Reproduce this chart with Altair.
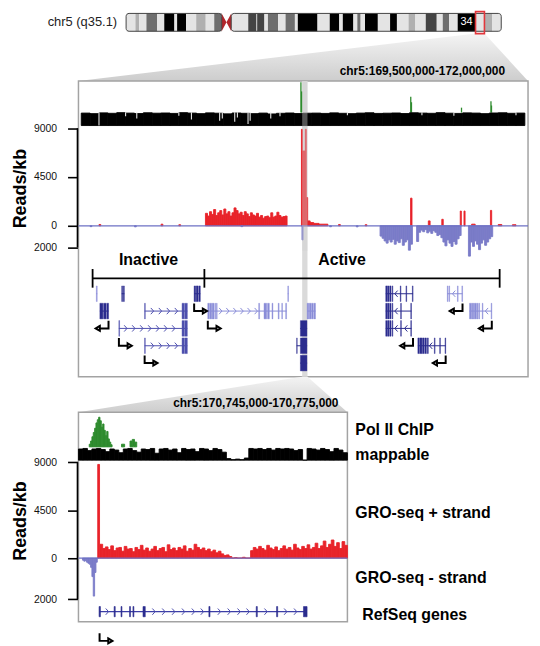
import altair as alt
import pandas as pd

FONT = "Liberation Sans"

# ---------------- layout (pixels) ----------------
PLOT_W = 453                 # ideogram + upper panel plot width
IDEO_H, BAND_PX = 32, 18     # ideogram plot height; bands use the top 18 px
UP_H = 298
LO_W, LO_H = 271, 211
GAP = 36
IDEO_LEFT_PX, IDEO_RIGHT_PX = 48, 27
UP_PAD_L_PX, UP_PAD_R_PX = 2.8, 3.2

# ---------------- chromosome 5 ideogram ----------------
CHR_LEN = 180.9
CHR_LABEL = "chr5 (q35.1)"
BAND_START = [0, 4.5, 6.3, 9.8, 15.0, 18.4, 23.3, 24.6, 28.9, 33.8, 38.4, 42.5, 46.1, 48.4, 50.7,
              58.9, 62.9, 63.2, 66.7, 68.4, 73.3, 76.9, 81.4, 82.8, 92.3, 98.2, 102.8, 104.5, 109.6,
              111.5, 113.1, 115.2, 121.4, 127.3, 130.6, 136.2, 139.5, 144.5, 149.8, 152.7, 155.7,
              159.9, 168.5, 172.8, 176.6]
BAND_END = BAND_START[1:] + [CHR_LEN]
BAND_STAIN = ["gneg", "gpos25", "gneg", "gpos50", "gneg", "gpos100", "gneg", "gpos100", "gneg", "gpos25",
              "gneg", "gpos50", "acen", "acen", "gneg", "gpos75", "gneg", "gpos75", "gneg", "gpos50",
              "gneg", "gpos50", "gneg", "gpos100", "gneg", "gpos100", "gneg", "gpos100", "gneg", "gpos50",
              "gneg", "gpos100", "gneg", "gpos100", "gneg", "gpos25", "gneg", "gpos75", "gneg", "gpos50",
              "gneg", "gpos100", "gneg", "gpos25", "gneg"]
STAIN_COLOR = {"gneg": "#e4e4e4", "gpos25": "#b0b0b0", "gpos50": "#6e6e6e",
               "gpos75": "#444444", "gpos100": "#000000"}
FOCUS_BAND = (168.5, 172.8)
BAND_NAME, BAND_NAME_POS = "34", 164.2

# ---------------- regions ----------------
UP_REGION = (169.5, 172.0)
UP_LABEL = "chr5:169,500,000-172,000,000"
LO_REGION = (170.745, 170.775)
LO_LABEL = "chr5:170,745,000-170,775,000"
TICKS = [9000, 4500, 0, -2000]
UP_Y = [-13920, 13370]
LO_Y = [-5980, 13690]
UP_MINUS_F, LO_MINUS_F = 1.0, 1.93

# ---------------- upper panel signals (Mb, reads/kb) ----------------
POL_UP_BASE = 10450
POL_UP_POS = [170.738, 170.742, 171.357, 171.361, 171.643, 171.809, 171.812]
POL_UP_VAL = [13250, 12400, 11900, 11400, 10900, 11500, 11100]

MAP_UP_START, MAP_UP_STEP, MAP_UP_BASE = 169.5, 0.05, 9250
MAP_UP_TOP = [10400, 10350, 10420, 10380, 10440, 10400, 10360, 10430, 10390, 10410,
              10370, 10440, 10400, 10350, 10420, 10390, 10330, 10410, 10380, 10350,
              10400, 10320, 10380, 10410, 10360, 10390, 10400, 10370, 10420, 10380,
              10350, 10400, 10430, 10370, 10390, 10410, 10360, 10430, 10400, 10380,
              10440, 10390, 10370, 10420, 10400, 10350, 10410, 10430, 10380, 10400]
MAP_UP_DIP_POS = [169.600, 169.75, 169.813, 170.05, 170.121, 170.28, 170.295, 170.365, 170.38,
                  170.44, 170.452, 170.568, 170.62, 171.0, 171.42, 171.6, 171.95]
MAP_UP_DIP_BOTTOM = [9250, 10100, 9900, 10150, 9800, 9700, 9900, 9600, 10000,
                     9400, 9700, 9900, 10100, 10200, 10200, 10150, 10200]

PLUS_UP_BLOCK_START, PLUS_UP_BLOCK_STEP = 170.20, 0.0115
PLUS_UP_BLOCK = [1150, 900, 1300, 1050, 1500, 950, 1200, 1400, 1000, 1550,
                 1100, 1300, 900, 1200, 1650, 1400, 1100, 1250, 950, 1300,
                 1100, 850, 1200, 1000, 900, 1150, 800, 950, 700, 850,
                 900, 750, 1200, 800, 900, 1250, 950, 800, 850, 900]
PLUS_UP_START = [170.741, 170.746, 170.763, 170.768, 170.776, 170.79, 170.81, 170.84,
                 171.356, 171.456, 171.532, 171.636, 171.657, 171.806,
                 169.60, 169.95, 170.05, 170.95, 171.10, 171.70, 171.85, 171.93]
PLUS_UP_END = [170.746, 170.763, 170.768, 170.776, 170.79, 170.81, 170.84, 170.89,
               171.364, 171.466, 171.540, 171.642, 171.663, 171.813,
               169.61, 169.96, 170.06, 170.96, 171.11, 171.72, 171.87, 171.95]
PLUS_UP_VAL = [8900, 6900, 8900, 2600, 450, 300, 220, 150,
               2550, 450, 600, 1360, 1360, 1420,
               120, 150, 100, 120, 100, 150, 120, 100]

MINUS_UP_STEP = 0.0114
MINUS_UP_B1_START = 171.184
MINUS_UP_B1 = [-950, -1150, -1400, -1600, -1300, -1500, -1250, -1700, -1400, -1550,
               -1200, -1800, -1500, -1300, -2250, -1700]
MINUS_UP_B2_START = 171.390
MINUS_UP_B2 = [-1450, -600, -400, -550, -350, -650, -500, -700, -450, -600, -900,
               -800, -1100, -1500, -1850, -1300, -1600, -1900, -1450, -1700, -1200, -900]
MINUS_UP_B3_START = 171.682
MINUS_UP_B3 = [-2800, -1500, -1900, -1400, -1700, -2200, -1600, -1300, -1800, -1500, -1200, -1000]
MINUS_UP_START = [170.744, 169.55, 169.80, 170.40, 170.90, 171.05]
MINUS_UP_END = [170.750, 169.56, 169.81, 170.41, 170.91, 171.06]
MINUS_UP_VAL = [-1300, -80, -100, -80, -90, -100]

# domains
BRACKET_POS = [169.564, 170.194, 171.858]
BRACKET_NAMES = ["Inactive", "Active"]
BRACKET_Y, BRACKET_TICK = -4850, 860

# ---------------- upper panel genes ----------------
ROW1_Y, ROW_STEP, EXON_HALF = -6270, 1600, 720
SHADE = {"dark": "#2b2c8e", "mid": "#4d4fae", "light": "#8a8dd8"}
GENE_ROW = [1, 1, 1, 1, 1, 1, 2, 2, 2, 2, 2, 2, 3, 3, 3, 4, 4, 4, 5]
GENE_START = [169.585, 169.728, 170.136, 170.664, 171.216, 171.563, 169.605, 169.857, 170.213,
              170.773, 171.216, 171.688, 169.712, 170.734, 171.216, 169.857, 170.714, 171.397, 170.734]
GENE_END = [169.590, 169.743, 170.171, 170.668, 171.370, 171.649, 169.654, 170.098, 170.657,
            170.820, 171.361, 171.814, 170.098, 170.773, 171.361, 170.098, 170.773, 171.554, 170.773]
GENE_SHADE = ["light", "dark", "dark", "light", "dark", "light", "dark", "mid", "light",
              "light", "dark", "light", "mid", "dark", "dark", "mid", "dark", "dark", "dark"]
GENE_EXONS = [
    [(169.585, 169.590)],
    [(169.728, 169.733), (169.737, 169.743)],
    [(170.136, 170.145), (170.148, 170.158), (170.162, 170.171)],
    [(170.664, 170.668)],
    [(171.216, 171.226), (171.229, 171.236), (171.240, 171.246), (171.252, 171.256),
     (171.298, 171.302), (171.330, 171.334), (171.366, 171.370)],
    [(171.563, 171.567), (171.572, 171.576), (171.620, 171.624), (171.645, 171.649)],
    [(169.605, 169.622), (169.626, 169.640), (169.644, 169.654)],
    [(169.857, 169.861), (170.068, 170.080), (170.083, 170.098)],
    [(170.213, 170.222), (170.225, 170.235), (170.238, 170.248), (170.253, 170.257),
     (170.262, 170.266), (170.500, 170.505), (170.530, 170.545), (170.550, 170.560),
     (170.575, 170.580), (170.610, 170.615), (170.630, 170.634), (170.652, 170.657)],
    [(170.773, 170.782), (170.785, 170.795), (170.798, 170.808), (170.812, 170.820)],
    [(171.216, 171.226), (171.229, 171.236), (171.240, 171.246), (171.252, 171.256),
     (171.300, 171.304), (171.357, 171.361)],
    [(171.688, 171.700), (171.703, 171.712), (171.715, 171.725), (171.728, 171.735),
     (171.740, 171.745), (171.760, 171.764), (171.810, 171.814)],
    [(169.712, 169.716), (170.068, 170.080), (170.083, 170.098)],
    [(170.735, 170.772)],
    [(171.216, 171.226), (171.229, 171.236), (171.240, 171.246), (171.252, 171.256),
     (171.300, 171.304), (171.357, 171.361)],
    [(169.857, 169.861), (170.068, 170.080), (170.083, 170.098)],
    [(170.714, 170.717), (170.735, 170.772)],
    [(171.397, 171.405), (171.408, 171.420), (171.423, 171.432), (171.436, 171.445),
     (171.450, 171.456), (171.490, 171.494), (171.520, 171.524), (171.550, 171.554)],
    [(170.735, 170.772)],
]
CHEV_POS = [169.90, 169.945, 169.99, 170.035,
            169.75, 169.795, 169.84, 169.885, 169.93, 169.975, 170.02,
            169.90, 169.945, 169.99, 170.035,
            170.285, 170.325, 170.365, 170.405, 170.445, 170.485,
            171.275, 171.275, 171.275, 171.33, 171.47, 171.785, 171.60]
CHEV_ROW = [2, 2, 2, 2, 3, 3, 3, 3, 3, 3, 3, 4, 4, 4, 4, 2, 2, 2, 2, 2, 2, 1, 2, 3, 3, 4, 2, 1]
CHEV_DIR = [">"] * 21 + ["<"] * 7
CHEV_SHADE = ["mid"] * 15 + ["light"] * 6 + ["dark", "dark", "dark", "dark", "dark", "light", "light"]
ARROW_POS = [169.654, 169.712, 169.857, 170.136, 170.213, 171.649, 171.370, 171.814, 171.554]
ARROW_ROW = [2, 3, 4, 1, 2, 1, 3, 2, 4]
ARROW_DIR = ["left", "right", "right", "right", "right", "left", "left", "left", "left"]

# ---------------- lower panel (kb from 170,745,000) ----------------
POL_LO_BASE = 10450
POL_LO_START, POL_LO_STEP = 1.2, 0.15
POL_LO = [10700, 11000, 11400, 11800, 12200, 12700, 13000, 13230, 12900, 12300,
          12600, 12000, 11500, 11900, 11200, 10900, 10650]
POL_LO_EXTRA_START = [4.8, 5.75, 6.0, 6.25]
POL_LO_EXTRA_END = [5.15, 6.0, 6.25, 6.5]
POL_LO_EXTRA_VAL = [10700, 11000, 11150, 10900]

MAP_LO_START, MAP_LO_STEP, MAP_LO_BASE = 0.0, 0.5, 9200
MAP_LO_TOP = [10250, 10300, 10100, 10250, 10300, 10200, 10000, 10250, 10150, 9900,
              10250, 10300, 10100, 9950, 10250, 10200, 10300, 9850, 10250, 10300,
              10150, 10250, 9900, 10300, 10200, 10250, 10000, 10300, 10250, 10100,
              10300, 10200, 9950, 9350, 9250, 9300, 9250, 9400, 10300, 10250,
              10300, 10200, 10300, 10150, 10300, 10250, 10300, 10250, 10100, 10200,
              9200, 10300, 10250, 10150, 10300, 10200, 10000, 10300, 10150, 9900]

PLUS_LO_SPIKE = (2.15, 2.35, 8800)
PLUS_LO_START, PLUS_LO_STEP = 2.4, 0.3
PLUS_LO = [1300, 900, 1050, 800, 1150, 700, 950, 1000, 650, 1100,
           850, 900, 600, 1000, 800, 1200, 750, 950, 650, 850,
           1100, 700, 900, 1000, 600, 1250, 800, 950, 700, 1000,
           850, 1150, 650, 900, 750, 1300, 1000, 800, 950, 700,
           850, 600, 750, 500, 650, 400, 250, 300, 150, 0,
           50, 0, 0, 80, 0, 0, 700, 1000, 850, 1100,
           900, 750, 1200, 950, 800, 1050, 700, 900, 1150, 850,
           1000, 750, 1300, 950, 800, 1100, 900, 1250, 850, 1000,
           1400, 900, 1150, 1600, 1000, 1300, 1700, 1100, 1450, 900,
           1550, 1200]
MINUS_LO_START, MINUS_LO_STEP = 0.45, 0.15
MINUS_LO = [-100, -150, -120, -200, -250, -300, -450, -900, -1850, -700, -200]

GENE_LO = (2.35, 25.45)
GENE_LO_Y, GENE_LO_HALF = -5030, 480
EXONS_LO = [(2.30, 2.45), (3.98, 4.10), (4.75, 4.85), (5.70, 5.80), (6.08, 6.18),
            (7.20, 7.45), (14.55, 14.67), (19.83, 19.95), (22.10, 22.22), (25.10, 25.50)]
CHEV_LO = [3.2, 8.4, 9.5, 10.6, 11.7, 12.8, 13.8, 15.7, 16.8, 17.9, 18.9, 20.9, 23.1, 24.2]

TRACK_LABELS = ["Pol II ChIP", "mappable", "GRO-seq + strand", "GRO-seq - strand"]
TRACK_LABEL_Y = [12050, 9650, 4190, -1900]
GENE_LABEL, GENE_LABEL_Y = "RefSeq genes", -5330

RED, BLUE, GREEN = "#e8232a", "#7a7cc8", "#2e8b2e"
SW = 0.9   # seam-closing stroke for adjacent bins

# ---------------- helpers ----------------
def rects(df, xs, ys, color, **kw):
    return alt.Chart(df).mark_rect(color=color, **kw).encode(
        x=alt.X("x0:Q", scale=xs, axis=None), x2="x1:Q",
        y=alt.Y("y0:Q", scale=ys, axis=None), y2="y1:Q")


def binned(start, step, values, base=0.0, f=1.0):
    n = len(values)
    return pd.DataFrame({"x0": [start + i * step for i in range(n)],
                         "x1": [start + (i + 1) * step for i in range(n)],
                         "y0": [base] * n, "y1": [v * f for v in values]})


def segs(starts, ends, vals, base=0.0, f=1.0):
    return pd.DataFrame({"x0": starts, "x1": ends, "y0": [base] * len(vals),
                         "y1": [v * f for v in vals]})


GRAD = alt.Gradient(gradient="linear",
                    stops=[alt.GradientStop(color="#f4f4f4", offset=0),
                           alt.GradientStop(color="#cdcdcd", offset=1)],
                    x1=0, x2=0, y1=0, y2=1)


def connector(xs, ys, xa, xb, xc, xd, ytop, ybot):
    df = pd.DataFrame({"x": [xa, xb, xc, xd], "y": [ybot, ytop, ytop, ybot], "y2": [ybot] * 4})
    return alt.Chart(df).mark_area(color=GRAD).encode(
        x=alt.X("x:Q", scale=xs, axis=None),
        y=alt.Y("y:Q", scale=ys, axis=None), y2="y2:Q")


def axis_layer(ys, f, title_y, offset):
    vals = [t if t >= 0 else t * f for t in TICKS]
    df = pd.DataFrame({"top": [TICKS[0]], "bottom": [TICKS[-1] * f]})
    return alt.Chart(df).mark_rule(color="black", strokeWidth=1.6).encode(
        x=alt.value(-offset),
        y=alt.Y("top:Q", scale=ys, axis=alt.Axis(
            values=vals,
            labelExpr=f"format(round(abs(datum.value) / (datum.value < 0 ? {f} : 1)), 'd')",
            title="Reads/kb", titleFont=FONT, titleFontSize=18, titleFontWeight="bold",
            titleColor="black", titlePadding=4, titleY=title_y,
            labelFont=FONT, labelFontSize=10.5, labelColor="#111111", labelPadding=11,
            tickColor="black", tickWidth=1.6, tickSize=10, domain=False, grid=False,
            offset=offset)),
        y2="bottom:Q")


def text_at(df, xs, ys, **kw):
    return alt.Chart(df).mark_text(**kw).encode(
        x=alt.X("x:Q", scale=xs, axis=None), y=alt.Y("y:Q", scale=ys, axis=None),
        text="t:N")


ARROW_PATH = {"right": "M-0.85,-0.75L-0.85,0.35L0.5,0.35M0.4,0L1,0.35L0.4,0.7Z",
              "left": "M0.85,-0.75L0.85,0.35L-0.5,0.35M-0.4,0L-1,0.35L-0.4,0.7Z"}


def arrow_layer(df, xs, ys, direction, y_off):
    return alt.Chart(df).mark_point(
        shape=ARROW_PATH[direction], size=196, filled=False, color="black", strokeWidth=2,
        opacity=1, xOffset=6 if direction == "right" else -6, yOffset=y_off).encode(
        x=alt.X("x:Q", scale=xs, axis=None), y=alt.Y("y:Q", scale=ys, axis=None))

# ---------------- ideogram ----------------
px_per_mb = (PLOT_W - IDEO_LEFT_PX - IDEO_RIGHT_PX) / CHR_LEN
IDEO_DOM = [-IDEO_LEFT_PX / px_per_mb, CHR_LEN + IDEO_RIGHT_PX / px_per_mb]
IDEO_YDOM = [1 - IDEO_H / BAND_PX, 1]
ixs = alt.Scale(domain=IDEO_DOM, nice=False, zero=False)
iys = alt.Scale(domain=IDEO_YDOM, nice=False, zero=False)

bands = pd.DataFrame({"x0": BAND_START, "x1": BAND_END, "stain": BAND_STAIN})
acen = bands[bands.stain == "acen"]
bands = bands[bands.stain != "acen"].copy()
bands["col"] = bands.stain.map(STAIN_COLOR)
bands["y0"], bands["y1"] = 0.0, 1.0
band_layer = alt.Chart(bands).mark_rect().encode(
    x=alt.X("x0:Q", scale=ixs, axis=None), x2="x1:Q",
    y=alt.Y("y0:Q", scale=iys, axis=None), y2="y1:Q",
    color=alt.Color("col:N", scale=None))

cen = pd.DataFrame({"x": [acen.x0.iloc[0], acen.x1.iloc[0], acen.x1.iloc[1]],
                    "y": [1, 0.5, 1], "y2": [0, 0.5, 0]})
cen_layer = alt.Chart(cen).mark_area(color="#b3262c").encode(
    x=alt.X("x:Q", scale=ixs, axis=None), y=alt.Y("y:Q", scale=iys, axis=None), y2="y2:Q")

arms = pd.DataFrame({"x0": [0, acen.x1.iloc[1]], "x1": [acen.x0.iloc[0], CHR_LEN],
                     "y0": [0, 0], "y1": [1, 1]})
outline = rects(arms, ixs, iys, "#444444", filled=False, strokeWidth=1, cornerRadius=3)
focus = rects(pd.DataFrame({"x0": [FOCUS_BAND[0]], "x1": [FOCUS_BAND[1]],
                            "y0": [-0.13], "y1": [1.1]}),
              ixs, iys, "#e2373c", filled=False, strokeWidth=1.6)
band_txt = text_at(pd.DataFrame({"x": [BAND_NAME_POS], "y": [0.5], "t": [BAND_NAME]}), ixs, iys,
                   color="white", font=FONT, fontSize=11, baseline="middle")
chr_txt = text_at(pd.DataFrame({"x": [0], "y": [0.5], "t": [CHR_LABEL]}), ixs, iys,
                  color="#222222", font=FONT, fontSize=13, align="right", baseline="middle", dx=-9)
ybot_i = IDEO_YDOM[0] - GAP / BAND_PX
conn1 = connector(ixs, iys, IDEO_DOM[0], FOCUS_BAND[0], FOCUS_BAND[1], IDEO_DOM[1], -0.13, ybot_i)

ideo = alt.layer(conn1, band_layer, cen_layer, outline, focus, band_txt, chr_txt).properties(
    width=PLOT_W, height=IDEO_H)

# ---------------- upper panel ----------------
span_px = PLOT_W - UP_PAD_L_PX - UP_PAD_R_PX
mb_per_px = (UP_REGION[1] - UP_REGION[0]) / span_px
UP_DOM = [UP_REGION[0] - UP_PAD_L_PX * mb_per_px, UP_REGION[1] + UP_PAD_R_PX * mb_per_px]
uxs = alt.Scale(domain=UP_DOM, nice=False, zero=False)
uys = alt.Scale(domain=UP_Y, nice=False, zero=False)

lo_right = UP_DOM[0] + LO_W / PLOT_W * (UP_DOM[1] - UP_DOM[0])
ybot_u = UP_Y[0] - GAP / UP_H * (UP_Y[1] - UP_Y[0])
conn2 = connector(uxs, uys, UP_DOM[0], LO_REGION[0], LO_REGION[1], lo_right, UP_Y[0], ybot_u)

band_bg = rects(pd.DataFrame({"x0": [LO_REGION[0]], "x1": [LO_REGION[1]],
                              "y0": [UP_Y[0]], "y1": [UP_Y[1]]}), uxs, uys, "#dadada")
band_ov = rects(pd.DataFrame({"x0": [LO_REGION[0]], "x1": [LO_REGION[1]],
                              "y0": [-2300], "y1": [UP_Y[1]]}), uxs, uys, "#cfcfcf", opacity=0.4)

pol_up = alt.Chart(pd.DataFrame({"x": POL_UP_POS, "y0": [POL_UP_BASE] * len(POL_UP_POS),
                                 "y1": POL_UP_VAL})).mark_rule(color=GREEN, strokeWidth=1.3).encode(
    x=alt.X("x:Q", scale=uxs, axis=None), y=alt.Y("y0:Q", scale=uys, axis=None), y2="y1:Q")
map_up = rects(binned(MAP_UP_START, MAP_UP_STEP, MAP_UP_TOP, MAP_UP_BASE), uxs, uys, "black",
               stroke="black", strokeWidth=SW)
dips_up = alt.Chart(pd.DataFrame({"x": MAP_UP_DIP_POS, "y0": [POL_UP_BASE + 30] * len(MAP_UP_DIP_POS),
                                  "y1": MAP_UP_DIP_BOTTOM})).mark_rule(color="#e8e8e8", strokeWidth=1.1).encode(
    x=alt.X("x:Q", scale=uxs, axis=None), y=alt.Y("y0:Q", scale=uys, axis=None), y2="y1:Q")

plus_up = pd.concat([binned(PLUS_UP_BLOCK_START, PLUS_UP_BLOCK_STEP, PLUS_UP_BLOCK),
                     segs(PLUS_UP_START, PLUS_UP_END, PLUS_UP_VAL)])
minus_up = pd.concat([binned(MINUS_UP_B1_START, MINUS_UP_STEP, MINUS_UP_B1, f=UP_MINUS_F),
                      binned(MINUS_UP_B2_START, MINUS_UP_STEP, MINUS_UP_B2, f=UP_MINUS_F),
                      binned(MINUS_UP_B3_START, MINUS_UP_STEP, MINUS_UP_B3, f=UP_MINUS_F),
                      segs(MINUS_UP_START, MINUS_UP_END, MINUS_UP_VAL, f=UP_MINUS_F)])
plus_up_l = rects(plus_up, uxs, uys, RED, stroke=RED, strokeWidth=SW)
minus_up_l = rects(minus_up, uxs, uys, BLUE, stroke=BLUE, strokeWidth=SW)
zero_up = alt.Chart(pd.DataFrame({"x0": [UP_DOM[0]], "x1": [UP_DOM[1]], "y": [0]})).mark_rule(
    color="#6d70c4", strokeWidth=1.2).encode(
    x=alt.X("x0:Q", scale=uxs, axis=None), x2="x1:Q", y=alt.Y("y:Q", scale=uys, axis=None))

# bracket
br_h = pd.DataFrame({"x0": [BRACKET_POS[0]], "x1": [BRACKET_POS[-1]], "y": [BRACKET_Y]})
br_h_l = alt.Chart(br_h).mark_rule(color="black", strokeWidth=1.8).encode(
    x=alt.X("x0:Q", scale=uxs, axis=None), x2="x1:Q", y=alt.Y("y:Q", scale=uys, axis=None))
br_v = pd.DataFrame({"x": BRACKET_POS, "y0": [BRACKET_Y - BRACKET_TICK] * 3,
                     "y1": [BRACKET_Y + BRACKET_TICK] * 3})
br_v_l = alt.Chart(br_v).mark_rule(color="black", strokeWidth=1.8).encode(
    x=alt.X("x:Q", scale=uxs, axis=None), y=alt.Y("y0:Q", scale=uys, axis=None), y2="y1:Q")
br_t = pd.DataFrame({"x": [(BRACKET_POS[i] + BRACKET_POS[i + 1]) / 2 for i in range(2)],
                     "y": [BRACKET_Y] * 2, "t": BRACKET_NAMES})
br_t1 = text_at(br_t.iloc[:1], uxs, uys, font=FONT, fontSize=16, fontWeight="bold",
                baseline="middle", dy=-18, color="black")
br_t2 = text_at(br_t.iloc[1:], uxs, uys, font=FONT, fontSize=16, fontWeight="bold",
                baseline="middle", dy=-18, dx=-10, color="black")


def row_y(r):
    return ROW1_Y - ROW_STEP * (r - 1)


genes = pd.DataFrame({"x0": GENE_START, "x1": GENE_END,
                      "y": [row_y(r) for r in GENE_ROW],
                      "col": [SHADE[s] for s in GENE_SHADE]})
gene_lines = alt.Chart(genes).mark_rule(strokeWidth=1).encode(
    x=alt.X("x0:Q", scale=uxs, axis=None), x2="x1:Q", y=alt.Y("y:Q", scale=uys, axis=None),
    color=alt.Color("col:N", scale=None))
ex_rows = []
for gi, exs in enumerate(GENE_EXONS):
    for (s, e) in exs:
        ex_rows.append({"x0": s, "x1": e, "y0": row_y(GENE_ROW[gi]) - EXON_HALF,
                        "y1": row_y(GENE_ROW[gi]) + EXON_HALF, "col": SHADE[GENE_SHADE[gi]]})
exons = pd.DataFrame(ex_rows)
exon_l = alt.Chart(exons).mark_rect(strokeWidth=0.4).encode(
    x=alt.X("x0:Q", scale=uxs, axis=None), x2="x1:Q",
    y=alt.Y("y0:Q", scale=uys, axis=None), y2="y1:Q",
    color=alt.Color("col:N", scale=None), stroke=alt.Stroke("col:N", scale=None))

CHEV_R = "M-0.45,-1L0.45,0L-0.45,1"
CHEV_L = "M0.45,-1L-0.45,0L0.45,1"
chev = pd.DataFrame({"x": CHEV_POS, "y": [row_y(r) for r in CHEV_ROW], "d": CHEV_DIR,
                     "col": [SHADE[s] for s in CHEV_SHADE]})


def chev_layer(df, xs, ys, path):
    return alt.Chart(df).mark_point(shape=path, size=40, strokeWidth=1, filled=False, opacity=1).encode(
        x=alt.X("x:Q", scale=xs, axis=None), y=alt.Y("y:Q", scale=ys, axis=None),
        color=alt.Color("col:N", scale=None))


chev_r = chev_layer(chev[chev.d == ">"], uxs, uys, CHEV_R)
chev_l = chev_layer(chev[chev.d == "<"], uxs, uys, CHEV_L)

arr = pd.DataFrame({"x": ARROW_POS, "y": [row_y(r) for r in ARROW_ROW], "d": ARROW_DIR})
arr_r = arrow_layer(arr[arr.d == "right"], uxs, uys, "right", 15)
arr_l = arrow_layer(arr[arr.d == "left"], uxs, uys, "left", 15)

up_lab = text_at(pd.DataFrame({"x": [UP_REGION[1]], "y": [UP_Y[1]], "t": [UP_LABEL]}), uxs, uys,
                 font=FONT, fontSize=12, fontWeight="bold", align="right", baseline="bottom",
                 dy=-3, dx=-20, color="black")

upper = alt.layer(axis_layer(uys, UP_MINUS_F, 108, 1), conn2, band_bg, pol_up, map_up, dips_up,
                  plus_up_l, minus_up_l, zero_up, band_ov, br_h_l, br_v_l, br_t1, br_t2,
                  gene_lines, exon_l, chev_r, chev_l, arr_r, arr_l, up_lab).resolve_axis(
    y="independent").properties(
    width=PLOT_W, height=UP_H,
    view=alt.ViewBackground(stroke="#a3a3a3", strokeWidth=1.5))

# ---------------- lower panel ----------------
lxs = alt.Scale(domain=list(LO_REGION), nice=False, zero=False)
lys = alt.Scale(domain=LO_Y, nice=False, zero=False)
K = 1000.0


def kb(v):
    return LO_REGION[0] + v / K


pol_lo = pd.concat([binned(kb(POL_LO_START), POL_LO_STEP / K, POL_LO, POL_LO_BASE),
                    segs([kb(v) for v in POL_LO_EXTRA_START], [kb(v) for v in POL_LO_EXTRA_END],
                         POL_LO_EXTRA_VAL, POL_LO_BASE)])
pol_lo_l = rects(pol_lo, lxs, lys, GREEN, stroke=GREEN, strokeWidth=SW)
map_lo_l = rects(binned(kb(MAP_LO_START), MAP_LO_STEP / K, MAP_LO_TOP, MAP_LO_BASE), lxs, lys,
                 "black", stroke="black", strokeWidth=SW)
plus_lo = pd.concat([binned(kb(PLUS_LO_START), PLUS_LO_STEP / K, PLUS_LO),
                     segs([kb(PLUS_LO_SPIKE[0])], [kb(PLUS_LO_SPIKE[1])], [PLUS_LO_SPIKE[2]])])
plus_lo = plus_lo[plus_lo.x0 < LO_REGION[1]]
plus_lo_l = rects(plus_lo, lxs, lys, RED, stroke=RED, strokeWidth=SW)
minus_lo_l = rects(binned(kb(MINUS_LO_START), MINUS_LO_STEP / K, MINUS_LO, f=LO_MINUS_F), lxs, lys,
                   BLUE, stroke=BLUE, strokeWidth=SW)
zero_lo = alt.Chart(pd.DataFrame({"x0": [LO_REGION[0]], "x1": [LO_REGION[1]], "y": [0]})).mark_rule(
    color="#6d70c4", strokeWidth=1.2).encode(
    x=alt.X("x0:Q", scale=lxs, axis=None), x2="x1:Q", y=alt.Y("y:Q", scale=lys, axis=None))

gl = pd.DataFrame({"x0": [kb(GENE_LO[0])], "x1": [kb(GENE_LO[1])], "y": [GENE_LO_Y]})
gl_l = alt.Chart(gl).mark_rule(color="#3c3ea6", strokeWidth=1.2).encode(
    x=alt.X("x0:Q", scale=lxs, axis=None), x2="x1:Q", y=alt.Y("y:Q", scale=lys, axis=None))
ex_lo = pd.DataFrame({"x0": [kb(s) for s, e in EXONS_LO], "x1": [kb(e) for s, e in EXONS_LO],
                      "y0": [GENE_LO_Y - GENE_LO_HALF] * len(EXONS_LO),
                      "y1": [GENE_LO_Y + GENE_LO_HALF] * len(EXONS_LO)})
ex_lo_l = rects(ex_lo, lxs, lys, SHADE["dark"], stroke=SHADE["dark"], strokeWidth=0.6)
chev_lo = pd.DataFrame({"x": [kb(v) for v in CHEV_LO], "y": [GENE_LO_Y] * len(CHEV_LO),
                        "col": [SHADE["mid"]] * len(CHEV_LO)})
chev_lo_l = chev_layer(chev_lo, lxs, lys, CHEV_R)
arr_lo = arrow_layer(pd.DataFrame({"x": [kb(GENE_LO[0])], "y": [GENE_LO_Y]}), lxs, lys, "right", 27)
lo_lab = text_at(pd.DataFrame({"x": [LO_REGION[1]], "y": [LO_Y[1]], "t": [LO_LABEL]}), lxs, lys,
                 font=FONT, fontSize=12, fontWeight="bold", align="right", baseline="bottom",
                 dy=-2, dx=-9, color="black")
tl = alt.Chart(pd.DataFrame({"y": TRACK_LABEL_Y, "t": TRACK_LABELS})).mark_text(
    font=FONT, fontSize=16, fontWeight="bold", align="left", baseline="middle", color="black").encode(
    x=alt.value(LO_W + 8), y=alt.Y("y:Q", scale=lys, axis=None), text="t:N")
gl_lab = alt.Chart(pd.DataFrame({"y": [GENE_LABEL_Y], "t": [GENE_LABEL]})).mark_text(
    font=FONT, fontSize=16, fontWeight="bold", align="left", baseline="middle", color="black").encode(
    x=alt.value(LO_W + 15), y=alt.Y("y:Q", scale=lys, axis=None), text="t:N")

lower = alt.layer(axis_layer(lys, LO_MINUS_F, 109, 1), pol_lo_l, map_lo_l, plus_lo_l, minus_lo_l,
                  zero_lo, gl_l, ex_lo_l, chev_lo_l, arr_lo, lo_lab, tl, gl_lab).resolve_axis(
    y="independent").properties(
    width=LO_W, height=LO_H,
    view=alt.ViewBackground(stroke="#a3a3a3", strokeWidth=1.5))

chart = alt.vconcat(ideo, upper, lower, spacing=GAP, bounds="flush").properties(
    padding={"left": 2, "top": 0, "right": 2, "bottom": 0}
).configure_view(strokeWidth=0)

chart.save("out.html", embed_options={"renderer": "svg", "actions": False})
